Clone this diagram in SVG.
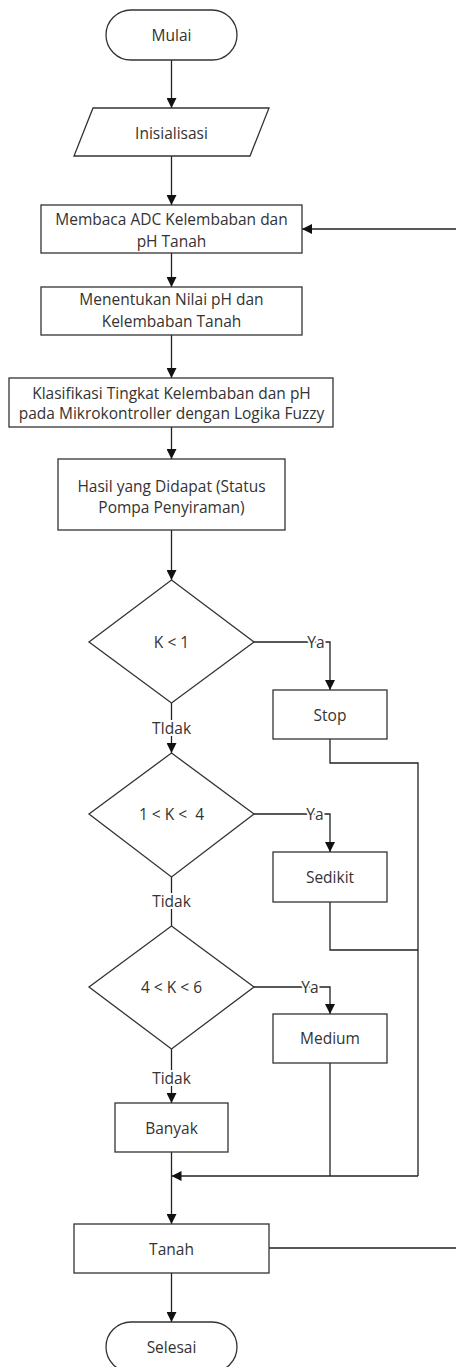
<svg xmlns="http://www.w3.org/2000/svg" width="456" height="1367" viewBox="0 0 456 1367">
<defs>
<marker id="arr" viewBox="0 0 10 10" refX="10" refY="5" markerWidth="10" markerHeight="10" markerUnits="userSpaceOnUse" orient="auto">
<path d="M0,0 L10,5 L0,10 Z" fill="#111"/>
</marker>
</defs>
<style>
.s{fill:#fff;stroke:#333;stroke-width:1.3}
.c{fill:none;stroke:#222;stroke-width:1.3}
.t{font-family:"Open Sans","Liberation Sans",sans-serif;font-size:15.5px;fill:#333;text-anchor:middle;dominant-baseline:central}
.l{stroke:#fff;stroke-width:4;paint-order:stroke}
</style>
<rect width="456" height="1367" fill="#fff"/>
<g id="connectors">
<path class="c" d="M171.5,60 V108" marker-end="url(#arr)"/>
<path class="c" d="M171.5,156 V205" marker-end="url(#arr)"/>
<path class="c" d="M171.5,253 V287" marker-end="url(#arr)"/>
<path class="c" d="M171.5,335 V378" marker-end="url(#arr)"/>
<path class="c" d="M171.5,427 V459" marker-end="url(#arr)"/>
<path class="c" d="M171.5,530 V580" marker-end="url(#arr)"/>
<path class="c" d="M254,642 H330 V690" marker-end="url(#arr)"/>
<path class="c" d="M171.5,703 V753" marker-end="url(#arr)"/>
<path class="c" d="M330,739 V763 H418 V1176"/>
<path class="c" d="M254,814 H330 V852" marker-end="url(#arr)"/>
<path class="c" d="M171.5,877 V926"/>
<path class="c" d="M330,902 V950 H418"/>
<path class="c" d="M254,987 H330 V1014" marker-end="url(#arr)"/>
<path class="c" d="M171.5,1049 V1103" marker-end="url(#arr)"/>
<path class="c" d="M330,1063 V1176"/>
<path class="c" d="M418,1176 H171.5" marker-end="url(#arr)"/>
<path class="c" d="M171.5,1152 V1224" marker-end="url(#arr)"/>
<path class="c" d="M269,1248 H462 V229 H302" marker-end="url(#arr)"/>
<path class="c" d="M171.5,1273 V1322" marker-end="url(#arr)"/>
<text class="t l" x="316" y="642">Ya</text>
<text class="t l" x="315" y="814">Ya</text>
<text class="t l" x="310" y="987">Ya</text>
<text class="t l" x="171.5" y="728">TIdak</text>
<text class="t l" x="171.5" y="901">Tidak</text>
<text class="t l" x="171.5" y="1078">Tidak</text>
</g>
<g id="mulai">
<rect class="s" x="106" y="10" width="131" height="50" rx="25"/>
<text class="t" x="171.5" y="35">Mulai</text>
</g>
<g id="inisialisasi">
<polygon class="s" points="93,108 269,108 250,156 74,156"/>
<text class="t" x="171.5" y="133">Inisialisasi</text>
</g>
<g id="membaca">
<rect class="s" x="41" y="205" width="261" height="48"/>
<text class="t" x="171.5" y="219">Membaca ADC Kelembaban dan</text>
<text class="t" x="171.5" y="241">pH Tanah</text>
</g>
<g id="menentukan">
<rect class="s" x="41" y="287" width="261" height="48"/>
<text class="t" x="171.5" y="299">Menentukan Nilai pH dan</text>
<text class="t" x="171.5" y="321">Kelembaban Tanah</text>
</g>
<g id="klasifikasi">
<rect class="s" x="9" y="378" width="324" height="49"/>
<text class="t" x="171.5" y="393">Klasifikasi Tingkat Kelembaban dan pH</text>
<text class="t" x="171.5" y="413">pada Mikrokontroller dengan Logika Fuzzy</text>
</g>
<g id="hasil">
<rect class="s" x="58" y="459" width="227" height="71"/>
<text class="t" x="171.5" y="486">Hasil yang Didapat (Status</text>
<text class="t" x="171.5" y="507">Pompa Penyiraman)</text>
</g>
<g id="d1">
<polygon class="s" points="171.5,580 254,642 171.5,703 89,642"/>
<text class="t" x="171.5" y="642">K &lt; 1</text>
</g>
<g id="stop">
<rect class="s" x="273" y="690" width="114" height="49"/>
<text class="t" x="330" y="715">Stop</text>
</g>
<g id="d2">
<polygon class="s" points="171.5,753 254,814 171.5,877 89,814"/>
<text class="t" x="171.5" y="814" xml:space="preserve">1 &lt; K &lt;  4</text>
</g>
<g id="sedikit">
<rect class="s" x="273" y="852" width="114" height="50"/>
<text class="t" x="330" y="877">Sedikit</text>
</g>
<g id="d3">
<polygon class="s" points="171.5,926 254,987 171.5,1049 89,987"/>
<text class="t" x="171.5" y="987">4 &lt; K &lt; 6</text>
</g>
<g id="medium">
<rect class="s" x="273" y="1014" width="114" height="49"/>
<text class="t" x="330" y="1038">Medium</text>
</g>
<g id="banyak">
<rect class="s" x="115" y="1103" width="113" height="49"/>
<text class="t" x="171.5" y="1128">Banyak</text>
</g>
<g id="tanah">
<rect class="s" x="74" y="1224" width="195" height="49"/>
<text class="t" x="171.5" y="1249">Tanah</text>
</g>
<g id="selesai">
<rect class="s" x="106" y="1322" width="131" height="50" rx="25"/>
<text class="t" x="171.5" y="1347">Selesai</text>
</g>
</svg>
